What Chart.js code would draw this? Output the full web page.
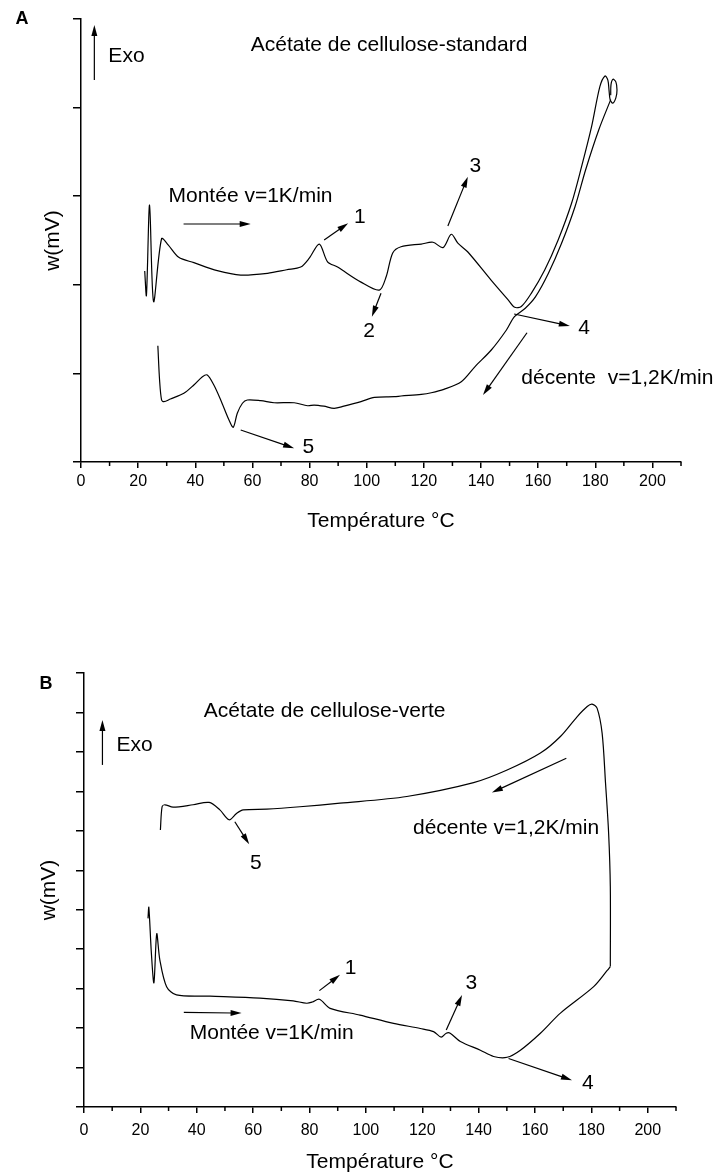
<!DOCTYPE html>
<html>
<head>
<meta charset="utf-8">
<script src="https://cdn.jsdelivr.net/npm/chart.js@4"></script>
<style>
  body { margin: 0; background: #fff; }
  .panel { position: absolute; left: 0; width: 719px; }
</style>
</head>
<body>
<div class="panel" style="top:0;height:560px"><canvas id="chartA" width="719" height="560"></canvas></div>
<div class="panel" style="top:560px;height:615px"><canvas id="chartB" width="719" height="615"></canvas></div>
<script>
// --- A : acétate de cellulose-standard ---
const heatAx = [22.3, 22.9, 24.0, 25.4, 28.2, 30.5, 34.2, 39.5, 47.7, 55.9, 65.3, 72, 76.9, 79.9, 83.4, 86.3, 89.8, 98.0, 104.4, 106.8, 109.1, 112.0, 119.1, 123.2, 126.7, 129.6, 131.9, 135.4, 143.6, 149.5, 151.8, 154.1, 157.6, 162.3, 167.0, 171.7, 175.2, 178.7, 181.6, 183.4, 184.4, 184.8, 185.2, 186.1, 187.2, 187.6, 187.2, 186.2, 185.5, 185.4];
const heatAy = [2.156, 1.88, 2.90, 1.81, 2.52, 2.45, 2.31, 2.25, 2.16, 2.11, 2.13, 2.17, 2.20, 2.30, 2.46, 2.26, 2.20, 2.03, 1.94, 2.09, 2.36, 2.43, 2.46, 2.48, 2.42, 2.57, 2.47, 2.37, 2.05, 1.83, 1.746, 1.755, 1.904, 2.167, 2.506, 2.920, 3.333, 3.784, 4.236, 4.357, 4.31, 4.20, 4.09, 4.05, 4.11, 4.20, 4.29, 4.32, 4.26, 4.14];
const coolAx = [185.4, 181.2, 176.6, 172.9, 168.2, 163.6, 159.1, 155.5, 151.7, 148.9, 143.6, 138, 133.1, 127, 122.6, 119.1, 112.0, 109.7, 102.7, 98.0, 92, 88.6, 85, 81.6, 79.3, 74.6, 67.6, 62.9, 58.2, 56.5, 54.7, 53.3, 51.8, 48.9, 46.5, 44.2, 42.5, 39.5, 36.0, 31.3, 29.0, 28.2, 27.5, 26.9];
const coolAy = [4.09, 3.747, 3.296, 2.881, 2.468, 2.130, 1.866, 1.735, 1.640, 1.490, 1.264, 1.08, 0.906, 0.82, 0.782, 0.764, 0.745, 0.737, 0.730, 0.681, 0.63, 0.606, 0.63, 0.643, 0.635, 0.669, 0.669, 0.692, 0.700, 0.663, 0.550, 0.392, 0.474, 0.700, 0.869, 0.982, 0.963, 0.869, 0.775, 0.711, 0.681, 0.700, 0.926, 1.313];

// --- B : acétate de cellulose-verte ---
const heatBx = [22.7, 23.0, 23.9, 24.8, 25.8, 26.9, 29.3, 32.8, 44.7, 62.4, 74.2, 79.0, 81, 83.5, 87.3, 97.9, 109.8, 119.3, 124.0, 126.7, 128.5, 129.9, 133.5, 140.6, 145.3, 150.1, 154.8, 161.9, 169.0, 180.8, 185.6, 186.7];
const heatBy = [4.78, 5.06, 3.90, 3.15, 4.39, 3.73, 3.05, 2.84, 2.81, 2.76, 2.69, 2.63, 2.66, 2.73, 2.50, 2.33, 2.12, 1.99, 1.91, 1.77, 1.87, 1.87, 1.66, 1.44, 1.28, 1.26, 1.44, 1.87, 2.38, 3.05, 3.46, 3.56];
const coolBx = [186.7, 186.7, 186.1, 185.0, 183.8, 182.0, 180.2, 178.5, 174.9, 169.0, 161.9, 150.1, 138.2, 114.5, 90.8, 76.6, 64.8, 56.5, 54.1, 51.5, 48.2, 44.4, 38.7, 31.6, 28.7, 27.7, 27.1];
const coolBy = [3.56, 5.58, 6.94, 8.21, 9.47, 10.11, 10.21, 10.15, 9.89, 9.39, 8.97, 8.54, 8.22, 7.87, 7.70, 7.61, 7.55, 7.53, 7.44, 7.28, 7.53, 7.72, 7.66, 7.60, 7.66, 7.61, 7.02];

// annotations, in data coordinates: [x, y, texte, align]
const labelsA = [
  [59.4, 4.707, 'Acétate de cellulose-standard', 'left'],
  [9.58, 4.582, 'Exo', 'left'],
  [30.63, 3.002, 'Montée v=1K/min', 'left'],
  [97.6, 2.765, '1', 'center'],
  [100.8, 1.479, '2', 'center'],
  [138.0, 3.341, '3', 'center'],
  [176.1, 1.512, '4', 'center'],
  [79.6, 0.169, '5', 'center'],
  [154.1, 0.948, 'décente  v=1,2K/min', 'left']
];
const arrowsA = [
  [4.67, 4.312, 4.67, 4.932],
  [35.9, 2.686, 59.4, 2.686],
  [85.1, 2.506, 93.5, 2.694],
  [105.0, 1.904, 101.8, 1.640],
  [128.4, 2.664, 135.4, 3.220],
  [151.6, 1.670, 171.1, 1.535],
  [156.1, 1.459, 140.7, 0.756],
  [55.9, 0.361, 74.6, 0.155]
];
const labelsB = [
  [42.5, 10.02, 'Acétate de cellulose-verte', 'left'],
  [11.5, 9.18, 'Exo', 'left'],
  [61.0, 6.19, '5', 'center'],
  [116.7, 7.07, 'décente v=1,2K/min', 'left'],
  [94.6, 3.52, '1', 'center'],
  [37.5, 1.88, 'Montée v=1K/min', 'left'],
  [137.4, 3.14, '3', 'center'],
  [178.7, 0.61, '4', 'center']
];
const arrowsB = [
  [6.54, 8.67, 6.54, 9.81],
  [53.5, 7.23, 58.6, 6.66],
  [171.1, 8.84, 144.7, 7.97],
  [83.5, 2.95, 90.8, 3.35],
  [35.4, 2.40, 55.9, 2.38],
  [128.5, 1.95, 134.1, 2.84],
  [150.6, 1.23, 173.1, 0.68]
];
const minorTicks = [10, 30, 50, 70, 90, 110, 130, 150, 170, 190, 210];

Chart.defaults.font.family = '"Liberation Sans", Arial, sans-serif';
Chart.defaults.color = '#000';

function pts(xs, ys) {
  return xs.map((x, i) => ({ x: x, y: ys[i] }));
}

function arrow(ctx, x1, y1, x2, y2) {
  const a = Math.atan2(y2 - y1, x2 - x1), L = 11, W = 3;
  const c = Math.cos(a), s = Math.sin(a);
  ctx.beginPath();
  ctx.moveTo(x1, y1);
  ctx.lineTo(x2 - L * 0.8 * c, y2 - L * 0.8 * s);
  ctx.stroke();
  ctx.beginPath();
  ctx.moveTo(x2, y2);
  ctx.lineTo(x2 - L * c + W * s, y2 - L * s - W * c);
  ctx.lineTo(x2 - L * c - W * s, y2 - L * s + W * c);
  ctx.closePath();
  ctx.fill();
}

function notes(labels, arrows, panel) {
  return {
    id: 'notes',
    afterDraw(chart) {
      const ctx = chart.ctx, sx = chart.scales.x, sy = chart.scales.y;
      const X = v => sx.getPixelForValue(v), Y = v => sy.getPixelForValue(v);
      ctx.save();
      ctx.strokeStyle = '#000';
      ctx.fillStyle = '#000';
      // petites graduations de l'axe x
      ctx.lineWidth = 1.5;
      minorTicks.forEach(v => {
        ctx.beginPath();
        ctx.moveTo(X(v), chart.chartArea.bottom);
        ctx.lineTo(X(v), chart.chartArea.bottom + 4);
        ctx.stroke();
      });
      ctx.lineWidth = 1.2;
      arrows.forEach(a => arrow(ctx, X(a[0]), Y(a[1]), X(a[2]), Y(a[3])));
      ctx.textBaseline = 'middle';
      ctx.font = '21px "Liberation Sans", Arial, sans-serif';
      labels.forEach(l => {
        ctx.textAlign = l[3];
        ctx.fillText(l[2], X(l[0]), Y(l[1]));
      });
      ctx.font = 'bold 18px "Liberation Sans", Arial, sans-serif';
      ctx.textAlign = 'center';
      ctx.fillText(panel.text, panel.x, panel.y);
      ctx.restore();
    }
  };
}

function line(data) {
  return { data: data, showLine: true, borderColor: '#000', borderWidth: 1.2, pointRadius: 0, tension: 0.3, fill: false };
}

function dsc(id, sets, yMax, lay, labels, arrows, panel) {
  return new Chart(document.getElementById(id), {
    type: 'scatter',
    data: { datasets: sets.map(line) },
    plugins: [notes(labels, arrows, panel)],
    options: {
      responsive: false,
      animation: false,
      layout: { padding: { top: lay.top, right: lay.right, left: 0, bottom: 0 } },
      plugins: { legend: { display: false }, tooltip: { enabled: false } },
      scales: {
        x: {
          min: 0, max: 210,
          afterFit: s => { s.height = lay.xh; },
          border: { color: '#000', width: 1.5 },
          grid: { drawOnChartArea: false, color: '#000', lineWidth: 1.5, tickLength: 6 },
          ticks: { stepSize: 20, includeBounds: false, padding: lay.tickPad, font: { size: 16 }, color: '#000', maxRotation: 0, autoSkip: false },
          title: { display: true, text: 'Température °C', font: { size: 21 }, color: '#000', padding: { top: 0, bottom: lay.titlePad } }
        },
        y: {
          min: 0, max: yMax,
          afterFit: s => { s.width = lay.yw; },
          border: { color: '#000', width: 1.5 },
          grid: { drawOnChartArea: false, color: '#000', lineWidth: 1.5, tickLength: 8 },
          ticks: { stepSize: 1, display: false },
          title: { display: true, text: 'w(mV)', font: { size: 21 }, color: '#000', padding: { top: lay.yTitlePad, bottom: 0 } }
        }
      }
    }
  });
}

dsc('chartA', [pts(heatAx, heatAy), pts(coolAx, coolAy)], 5,
  { top: 19, right: 38, xh: 98, yw: 81, tickPad: 4, titlePad: 26, yTitlePad: 41 },
  labelsA, arrowsA, { text: 'A', x: 22, y: 19 });

dsc('chartB', [pts(heatBx, heatBy), pts(coolBx, coolBy)], 11,
  { top: 113, right: 43, xh: 68, yw: 84, tickPad: 8, titlePad: 0, yTitlePad: 37 },
  labelsB, arrowsB, { text: 'B', x: 46, y: 124 });
</script>
</body>
</html>
